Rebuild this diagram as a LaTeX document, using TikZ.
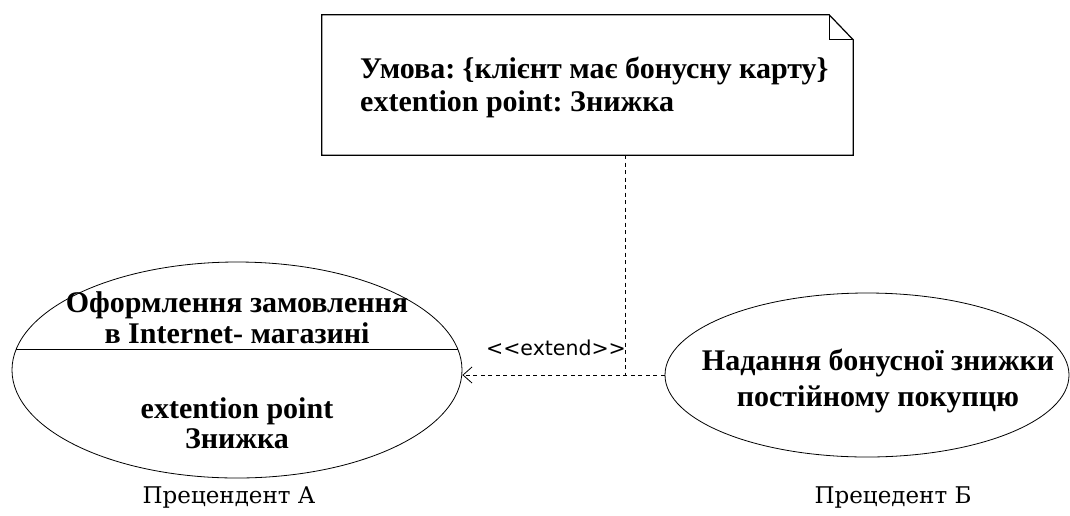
\documentclass[tikz,border=0pt]{standalone}
\usepackage{fontspec}
\setmainfont{Liberation Serif}
\newfontfamily\labelsans{DejaVu Sans}
\newfontfamily\captionfont{DejaVu Serif}
\usetikzlibrary{shapes.geometric,arrows.meta,calc}

\tikzset{
  usecase/.style={draw, ellipse, line width=0.8pt, inner sep=0pt},
  boldtext/.style={font=\bfseries\fontsize{30}{32}\selectfont, align=center, inner sep=0pt},
  captiontext/.style={font=\captionfont\fontsize{23}{26}\selectfont, inner sep=0pt},
  dep/.style={dash pattern=on 4pt off 3.5pt, line width=0.8pt},
  outline/.style={line width=1.2pt}
}

\begin{document}
\begin{tikzpicture}[x=1pt, y=-1pt]
  \useasboundingbox (0,0) rectangle (1070,515);

  % note with the condition of the extension
  \node[minimum width=531pt, minimum height=140pt, inner sep=0pt] (note) at (587.5,85) {};
  \draw[outline] (note.north west) -- ($(note.north east)+(-24,0)$)
        -- ($(note.north east)+(0,25)$) -- (note.south east) -- (note.south west) -- cycle;
  \draw[line width=0.8pt] ($(note.north east)+(-24,0)$) -- ($(note.north east)+(-24,25)$)
        -- ($(note.north east)+(0,25)$);
  \node[boldtext, font=\bfseries\fontsize{30}{33}\selectfont, align=left, anchor=west] (notetext) at (360,87)
    {Умова:\ \{клієнт має бонусну карту\}\\extention point:\ Знижка};

  % base use case with extension point compartment
  \node[usecase, minimum width=450pt, minimum height=216pt] (ucA) at (237,370) {};
  \draw[line width=1pt] ($(ucA.center)+(-220.7,-21)$) -- ($(ucA.center)+(220.7,-21)$);
  \node[boldtext, font=\bfseries\fontsize{30}{31}\selectfont] (ucAname) at (237,318) {Оформлення замовлення\\в Internet- магазині};
  \node[boldtext, font=\bfseries\fontsize{30}{30}\selectfont] (ucApoint) at (237,423) {extention point\\Знижка};
  \node[captiontext] (capA) at (229,497) {Прецендент А};

  % extending use case
  \node[usecase, minimum width=404pt, minimum height=164pt] (ucB) at (867,375) {};
  \node[boldtext, font=\bfseries\fontsize{30}{36}\selectfont] (ucBname) at (878,381) {Надання бонусної знижки\\постійному покупцю};
  \node[captiontext] (capB) at (893,497) {Прецедент Б};

  % extend relationship and its link to the note
  \coordinate (hit) at (ucB.west -| ucA.east);
  \coordinate (join) at (625,0 |- ucB.west);
  \draw[dep, -{Straight Barb[length=9pt, width=16pt, line width=0.8pt]}] (ucB.west) -- (hit);
  \draw[dep] (note.south -| join) -- (join);
  \node[font=\labelsans\fontsize{20.5}{22}\selectfont, inner sep=0pt] (ext) at (556,348) {<<extend>>};
\end{tikzpicture}
\end{document}
